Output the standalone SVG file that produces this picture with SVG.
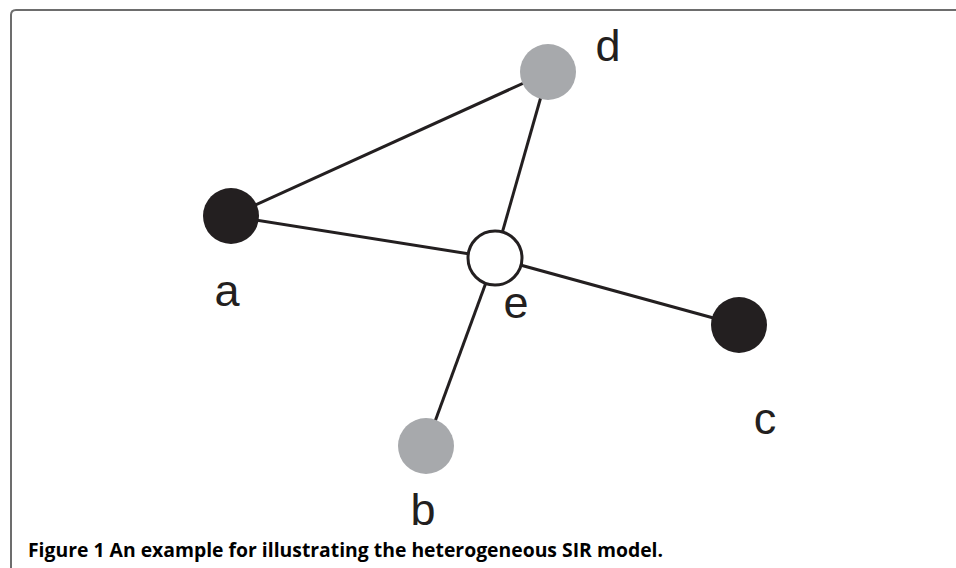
<svg xmlns="http://www.w3.org/2000/svg" width="956" height="568" viewBox="0 0 956 568">
<style>
.edge{stroke:#231f20;stroke-width:3;fill:none}
.blk{fill:#231f20}
.gry{fill:#a7a9ac}
.wht{fill:#fff;stroke:#231f20;stroke-width:3}
.lbl{font-family:"Liberation Sans",Arial,sans-serif;font-size:45px;fill:#231f20}
.cap{font-family:"Open Sans","Noto Sans",sans-serif;font-weight:bold;font-size:20px;fill:#000}
</style>
<rect width="956" height="568" fill="#fff"/>
<path d="M11,568 V15 Q11,10 16,10 H956" fill="none" stroke="#6d6d6d" stroke-width="2"/>
<g id="connectors">
<line class="edge" x1="231" y1="216" x2="548" y2="72"/>
<line class="edge" x1="231" y1="216" x2="495" y2="258"/>
<line class="edge" x1="495" y1="258" x2="548" y2="72"/>
<line class="edge" x1="495" y1="258" x2="739" y2="325"/>
<line class="edge" x1="495" y1="258" x2="426" y2="446"/>
</g>
<g id="node-a"><circle class="blk" cx="231" cy="216" r="28"/><text class="lbl" x="227" y="306" text-anchor="middle">a</text></g>
<g id="node-d"><circle class="gry" cx="548" cy="72" r="28"/><text class="lbl" x="608" y="61" text-anchor="middle">d</text></g>
<g id="node-e"><circle class="wht" cx="495" cy="258" r="27"/><text class="lbl" x="516" y="318" text-anchor="middle">e</text></g>
<g id="node-c"><circle class="blk" cx="739" cy="325" r="28"/><text class="lbl" x="765" y="434" text-anchor="middle">c</text></g>
<g id="node-b"><circle class="gry" cx="426" cy="446" r="28"/><text class="lbl" x="423" y="525" text-anchor="middle">b</text></g>
<text class="cap" x="28" y="557" textLength="635" lengthAdjust="spacingAndGlyphs">Figure 1 An example for illustrating the heterogeneous SIR model.</text>
</svg>
